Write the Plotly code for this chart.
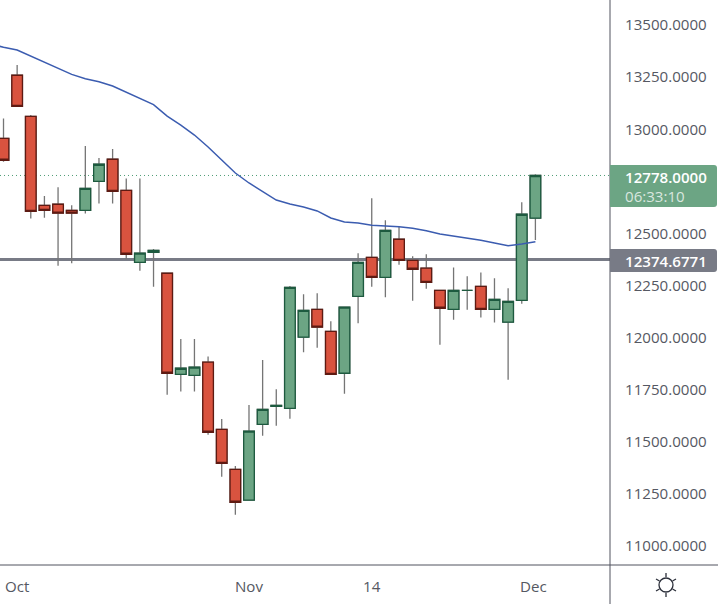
import plotly.graph_objects as go

opens = [12956,13259,13062,12635,12640,12611,12611,12750,12856,12707,12361,12409,12309,11824,11819,11882,11560,11368,11220,11584,11670,11661,12002,12136,12030,11829,12198,12385,12289,12472,12371,12333,12227,12136,12227,12246,12136,12074,12179,12573]
highs = [13052,13308,13068,12680,12721,12635,12919,12862,12905,12764,12764,12425,12309,11993,11993,11910,11610,11384,11677,11893,11752,12248,12208,12213,12078,12146,12405,12669,12563,12532,12390,12400,12227,12337,12294,12313,12285,12237,12649,12784]
lows = [12844,13110,12571,12575,12345,12357,12595,12643,12643,12376,12321,12244,11726,11741,11741,11534,11333,11150,11220,11529,11577,11611,11930,11952,11824,11731,12069,12244,12194,12350,12177,12235,11966,12086,12134,12096,12072,11798,12163,12468]
closes = [12851,13110,12606,12611,12597,12597,12716,12832,12702,12400,12405,12419,11829,11853,11858,11546,11397,11210,11551,11656,11675,12241,12131,12050,11824,12146,12361,12289,12515,12371,12328,12265,12141,12227,12227,12136,12184,12174,12592,12778]
ma_values = [13410,13393,13380,13351,13322,13292,13263,13242,13228,13207,13177,13146,13118,13063,13020,12972,12915,12852,12790,12742,12699,12660,12641,12627,12608,12574,12555,12550,12539,12537,12532,12525,12513,12497,12488,12478,12467,12454,12441,12449,12460]
x_tick_positions = [1, 18, 27, 38.85]
x_tick_labels = ["Oct", "Nov", "14", "Dec"]
y_ticks = [11000, 11250, 11500, 11750, 12000, 12250, 12500, 13000, 13250, 13500]
last_price = 12778.0
level_price = 12374.6771

W, H, AX_X, AX_Y = 718, 604, 610, 565
RED, RED_EDGE = "#d9533f", "#5e1a12"
GREEN, GREEN_EDGE = "#6ca584", "#1d5a3f"
WICK = "#757575"
AXIS = "#50535e"
TEXT = "#555862"
FONT = "Open Sans"
FS = 15.1

def px(x):
    return x / AX_X

def py(y):
    return 1 - y / AX_Y

idx = list(range(len(opens)))
fig = go.Figure()

def side(color):
    return dict(line=dict(color=color, width=1.3), fillcolor=color)

fig.add_trace(go.Candlestick(x=idx, open=opens, high=highs, low=lows, close=closes,
                             whiskerwidth=0, increasing=side(WICK), decreasing=side(WICK),
                             hoverinfo="skip", showlegend=False))
body_hi = [max(o, c) for o, c in zip(opens, closes)]
body_lo = [min(o, c) for o, c in zip(opens, closes)]
fig.add_trace(go.Candlestick(x=idx, open=opens, high=body_hi, low=body_lo, close=closes, whiskerwidth=0,
                             increasing=dict(line=dict(color=GREEN_EDGE, width=1.3), fillcolor=GREEN),
                             decreasing=dict(line=dict(color=RED_EDGE, width=1.3), fillcolor=RED),
                             showlegend=False))
fig.add_trace(go.Scatter(x=[i - 1 for i in range(len(ma_values))], y=ma_values, mode="lines",
                         line=dict(color="#3b5cb0", width=1.5), hoverinfo="skip", showlegend=False))

shapes = [
    dict(type="line", xref="paper", yref="y", x0=0, x1=1, y0=level_price, y1=level_price,
         line=dict(color="#787b86", width=3), layer="below"),
    dict(type="line", xref="paper", yref="y", x0=0, x1=1, y0=last_price, y1=last_price,
         line=dict(color="#4f9d76", width=1, dash="1px,3px"), layer="below"),
    dict(type="line", xref="paper", yref="paper", x0=0, x1=px(W), y0=0, y1=0,
         line=dict(color=AXIS, width=1)),
    dict(type="line", xref="paper", yref="paper", x0=1, x1=1, y0=py(H), y1=py(0),
         line=dict(color=AXIS, width=1)),
]

def tag(y0, y1, color):
    r = 3
    xr = 717
    return dict(type="path", xref="paper", yref="paper", fillcolor=color, line=dict(width=0),
                path=(f"M {px(AX_X)} {py(y0)} L {px(xr - r)} {py(y0)} "
                      f"Q {px(xr)} {py(y0)} {px(xr)} {py(y0 + r)} "
                      f"L {px(xr)} {py(y1 - r)} Q {px(xr)} {py(y1)} {px(xr - r)} {py(y1)} "
                      f"L {px(AX_X)} {py(y1)} Z"))

shapes += [tag(165, 207, GREEN), tag(249, 272, "#787b86")]

# sun icon of the settings corner
cx, cy, r0 = 666, 585, 7
shapes.append(dict(type="circle", xref="paper", yref="paper",
                   x0=px(cx - r0), x1=px(cx + r0), y0=py(cy - r0), y1=py(cy + r0),
                   line=dict(color="#2a2e39", width=1.3)))
for (a, b, c, d) in [(0, -8, 0, -12), (0, 8, 0, 12), (6.5, -4, 10, -6), (6.5, 4, 10, 6), (-6.5, -4, -10, -6), (-6.5, 4, -10, 6)]:
    shapes.append(dict(type="line", xref="paper", yref="paper",
                       x0=px(cx + a), x1=px(cx + c), y0=py(cy + b), y1=py(cy + d),
                       line=dict(color="#2a2e39", width=1.3)))

def label(text, y, color, weight=400):
    return dict(text=text, xref="paper", yref="paper", x=px(623), y=py(y), xanchor="left", yanchor="middle",
                showarrow=False, font=dict(family=FONT, size=FS, color=color, weight=weight))

annotations = [
    label(f"{last_price:.4f}", 177, "#ffffff", 600),
    label("06:33:10", 196, "rgba(255,255,255,0.75)"),
    label(f"{level_price:.4f}", 261, "#ffffff", 600),
]

fig.update_layout(
    width=W, height=H, margin=dict(l=0, r=W - AX_X, t=0, b=H - AX_Y, autoexpand=False),
    paper_bgcolor="white", plot_bgcolor="white", boxgap=0.22, boxgroupgap=0, showlegend=False,
    shapes=shapes, annotations=annotations,
    xaxis=dict(range=[-0.257, 44.47], rangeslider=dict(visible=False), tickmode="array",
               tickvals=x_tick_positions, ticktext=x_tick_labels, showgrid=False, zeroline=False,
               ticks="outside", ticklen=8, tickcolor="rgba(0,0,0,0)",
               tickfont=dict(family=FONT, size=FS, color=TEXT)),
    yaxis=dict(range=[10909, 13620], side="right", tickmode="array", tickvals=y_ticks,
               ticktext=[f"{t:.4f}" for t in y_ticks], showgrid=False, zeroline=False,
               ticks="outside", ticklen=11, tickcolor="rgba(0,0,0,0)",
               tickfont=dict(family=FONT, size=FS, color=TEXT)),
)
fig.write_html("out.html", config=dict(displayModeBar=False),
               post_script="document.body.style.margin='0';document.documentElement.style.overflow='hidden';")
